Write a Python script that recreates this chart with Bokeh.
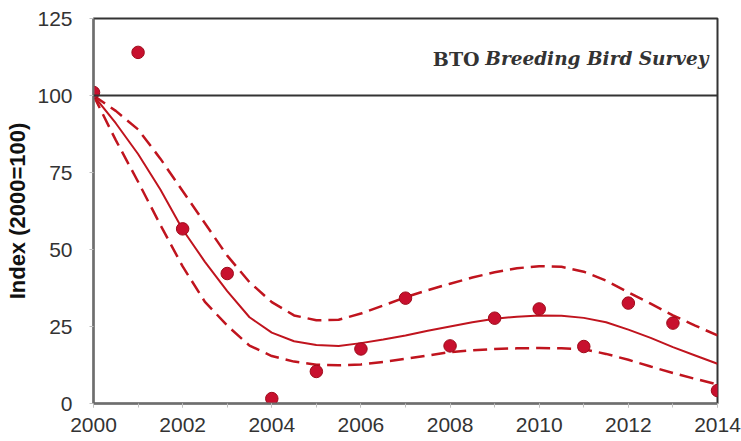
from bokeh.plotting import figure
from bokeh.models import Span, Label, FixedTicker, Range1d
from bokeh.embed import file_html
from bokeh.resources import INLINE

# Annual index values (points)
years = [2000, 2001, 2002, 2003, 2004, 2005, 2006, 2007, 2008, 2009, 2010, 2011, 2012, 2013, 2014]
index_values = [101.0, 114.0, 56.7, 42.2, 1.6, 10.4, 17.7, 34.2, 18.7, 27.7, 30.7, 18.5, 32.6, 26.1, 4.2]

# Smoothed trend and confidence limits, read at half-year steps
trend_years = [2000, 2000.5, 2001, 2001.5, 2002, 2002.5, 2003, 2003.5, 2004, 2004.5,
               2005, 2005.5, 2006, 2006.5, 2007, 2007.5, 2008, 2008.5, 2009, 2009.5,
               2010, 2010.5, 2011, 2011.5, 2012, 2012.5, 2013, 2013.5, 2014]
trend = [100, 91, 81, 69.5, 56.5, 46, 36.5, 28, 23, 20.2,
         19.0, 18.7, 19.6, 20.8, 22.1, 23.6, 25, 26.4, 27.5, 28.2,
         28.6, 28.5, 27.8, 26.4, 24.0, 21.3, 18.3, 15.6, 12.9]
upper = [100, 95, 89, 79.5, 69, 58.5, 48, 39.4, 32.9, 28.6,
         27, 27.2, 29.2, 31.8, 34.5, 36.8, 38.9, 40.9, 42.6, 43.9,
         44.6, 44.4, 42.8, 39.9, 36.1, 32.4, 28.6, 25.3, 22.1]
lower = [100, 85.5, 72, 58, 44.5, 33, 25.3, 18.8, 15.4, 13.6,
         12.6, 12.4, 12.7, 13.5, 14.5, 15.6, 16.7, 17.3, 17.7, 17.9,
         18, 17.9, 17.6, 16.1, 14.2, 12, 9.9, 8, 6.2]

x_ticks = [2000, 2002, 2004, 2006, 2008, 2010, 2012, 2014]
y_ticks = [0, 25, 50, 75, 100, 125]

RED = "#C0141E"

p = figure(width=741, height=441, output_backend="svg", toolbar_location=None,
           x_range=Range1d(2000, 2014), y_range=Range1d(0, 125),
           min_border_left=93, min_border_right=24, min_border_top=18, min_border_bottom=38)
p.background_fill_color = "white"
p.border_fill_color = "white"
p.outline_line_color = "#333333"
p.outline_line_width = 2
p.xgrid.visible = False
p.ygrid.visible = False

for ax in (p.xaxis, p.yaxis):
    ax.axis_line_color = "#6e6e6e"
    ax.axis_line_width = 2
    ax.major_tick_line_color = "#c0c0c0"
    ax.major_tick_in = 0
    ax.major_tick_out = 4
    ax.minor_tick_line_color = None
    ax.major_label_text_font = "Liberation Sans"
    ax.major_label_text_font_size = "21px"
    ax.major_label_text_color = "#333333"

p.xaxis.ticker = FixedTicker(ticks=x_ticks, minor_ticks=years)
p.xaxis.minor_tick_line_color = "#c0c0c0"
p.xaxis.minor_tick_in = 0
p.xaxis.minor_tick_out = 4
p.xaxis.major_label_standoff = 10
p.yaxis.ticker = FixedTicker(ticks=y_ticks)
p.yaxis.major_label_standoff = 17

p.yaxis.axis_label = "Index (2000=100)"
p.yaxis.axis_label_text_font = "Liberation Sans"
p.yaxis.axis_label_text_font_style = "bold"
p.yaxis.axis_label_text_font_size = "22px"
p.yaxis.axis_label_text_color = "#111111"
p.yaxis.axis_label_standoff = 4

p.add_layout(Span(location=100, dimension="width", line_color="#333333", line_width=2))

p.line(trend_years, upper, line_color=RED, line_width=2.5, line_dash="14 7")
p.line(trend_years, lower, line_color=RED, line_width=2.5, line_dash="14 7")
p.line(trend_years, trend, line_color=RED, line_width=2)
p.scatter(years, index_values, size=12.5, fill_color="#C8102E", line_color="#9E0B1A", line_width=1)

p.add_layout(Label(x=2013.8, y=112, text="BTO", text_font="DejaVu Serif",
                   text_font_style="bold", text_font_size="19px", text_color="#333333",
                   text_align="right", text_baseline="middle", x_offset=-229))
p.add_layout(Label(x=2013.8, y=112, text="Breeding Bird Survey", text_font="DejaVu Serif",
                   text_font_style="bold italic", text_font_size="18.5px", text_color="#333333",
                   text_align="right", text_baseline="middle"))

open("out.html", "w").write(file_html(p, INLINE))
